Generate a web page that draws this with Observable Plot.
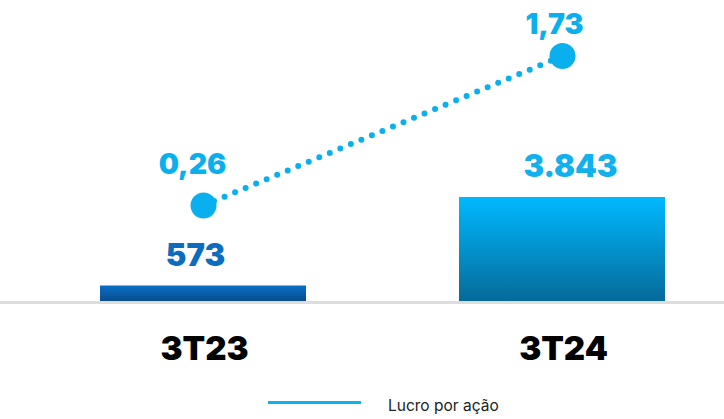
<!DOCTYPE html>
<html><head><meta charset="utf-8">
<script src="https://cdn.jsdelivr.net/npm/d3@7"></script>
<script src="https://cdn.jsdelivr.net/npm/@observablehq/plot@0.6"></script>
<style>
body{margin:0;background:#fff;font-family:Inter,"Noto Sans",sans-serif;}
#wrap{position:relative;width:724px;height:390px;}
#wrap svg{position:absolute;left:0;top:0;}
#wrap g[aria-label="bar-labels"] text{letter-spacing:3.5px;}
#wrap g[aria-label="cat-labels"] text{letter-spacing:3px;}
#wrap g[aria-label="eps-labels"] text{letter-spacing:0.3px;}
#legend{height:29px;display:flex;align-items:center;padding-left:268px;box-sizing:border-box;}
#legend .sw{width:93px;height:3px;background:#0ab4f0;margin-right:27px;margin-top:-5px;}
#legend .tx{font-size:15.5px;color:#222;font-family:Inter,sans-serif;margin-top:1px;}
</style></head>
<body>
<div id="wrap"></div>
<div id="legend"><span class="sw"></span><span class="tx">Lucro por ação</span></div>
<script>
const categories = ["3T23", "3T24"];
const lucro = [573, 3843];
const lucroLabels = ["573", "3.843"];
const lpa = [0.26, 1.73];
const lpaLabels = ["0,26", "1,73"];
const seriesName = "Lucro por ação";

const rows = categories.map((c, i) => ({c, v: lucro[i], vl: lucroLabels[i], e: lpa[i], el: lpaLabels[i], i}));
const W = 724, H = 390;
const FONT = "Inter, 'Noto Sans', sans-serif";
const xScale = {type: "band", domain: categories, range: [64, 701.5], paddingInner: 0.427, paddingOuter: 0.1};

const defs = () => {
  const d = d3.create("svg:defs");
  const mk = (id, top, bot) => {
    const g = d.append("linearGradient").attr("id", id).attr("x1", 0).attr("y1", 0).attr("x2", 0).attr("y2", 1);
    g.append("stop").attr("offset", "0%").attr("stop-color", top);
    g.append("stop").attr("offset", "100%").attr("stop-color", bot);
  };
  mk("gA", "#0a6fc8", "#0a4d8c");
  mk("gB", "#00b9ff", "#066a99");
  return d.node();
};

const r0 = rows.filter(d => d.i === 0), r1 = rows.filter(d => d.i === 1);

const barPlot = Plot.plot({
  width: W, height: H,
  marginTop: 0, marginBottom: 89, marginLeft: 0, marginRight: 0,
  style: {fontFamily: FONT, background: "transparent"},
  x: {...xScale, axis: null},
  y: {domain: [0, 11122], axis: null},
  marks: [
    defs,
    Plot.ruleY([0], {stroke: "#dddddd", strokeWidth: 3, dy: 1}),
    Plot.barY(r0, {x: "c", y: "v", fill: "url(#gA)"}),
    Plot.barY(r1, {x: "c", y: "v", fill: "url(#gB)"}),
    Plot.text(r0, {x: "c", y: "v", text: "vl", lineAnchor: "bottom", dy: -20, dx: -8, fontSize: 31, fontWeight: 900, fill: "#0b6cc0", ariaLabel: "bar-labels"}),
    Plot.text(r1, {x: "c", y: "v", text: "vl", lineAnchor: "bottom", dy: -20, dx: 8, fontSize: 31, fontWeight: 900, fill: "#12b0ec", ariaLabel: "bar-labels"}),
    Plot.text(rows, {x: "c", y: 0, text: "c", lineAnchor: "middle", dy: 48, dx: 1, fontSize: 33, fontWeight: 900, fill: "#000", ariaLabel: "cat-labels"})
  ]
});

const linePlot = Plot.plot({
  width: W, height: H,
  marginTop: 0, marginBottom: 89, marginLeft: 0, marginRight: 0,
  style: {fontFamily: FONT, background: "transparent"},
  x: {...xScale, axis: null},
  y: {domain: [0, 1.73], range: [231.4, 55.5], axis: null},
  marks: [
    Plot.line(rows, {x: "c", y: "e", stroke: "#0ab0ee", strokeWidth: 6, strokeDasharray: "0 11.4", strokeLinecap: "round"}),
    Plot.dot(rows, {x: "c", y: "e", r: 13, fill: "#0ab0ee"}),
    Plot.text(r0, {x: "c", y: "e", text: "el", lineAnchor: "bottom", dy: -31, dx: -11, fontSize: 28.5, fontWeight: 900, fill: "#0ab0ee", ariaLabel: "eps-labels"}),
    Plot.text(r1, {x: "c", y: "e", text: "el", lineAnchor: "bottom", dy: -22, dx: -8, fontSize: 28.5, fontWeight: 900, fill: "#0ab0ee", ariaLabel: "eps-labels"})
  ]
});

document.getElementById("wrap").append(barPlot, linePlot);
</script>
</body></html>
